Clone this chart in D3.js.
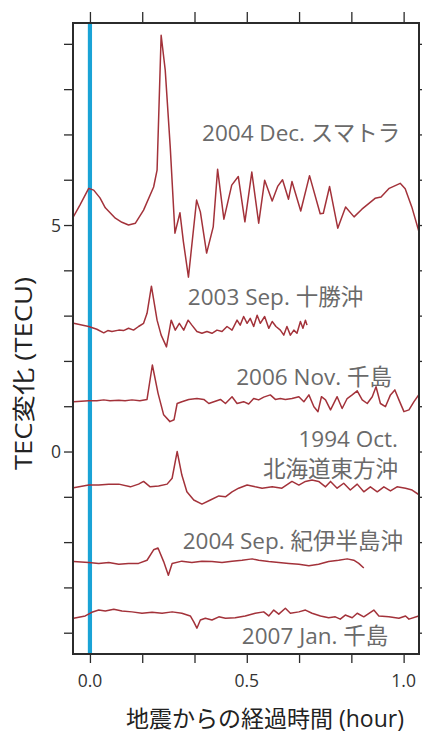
<!DOCTYPE html>
<html><head><meta charset="utf-8">
<script src="https://cdn.jsdelivr.net/npm/d3@7"></script>
<style>
html,body{margin:0;padding:0;background:#fff;}
svg{display:block;}
text{font-family:"Open Sans","Noto Sans CJK JP",sans-serif;}
</style></head>
<body><svg id="c" width="422" height="733"></svg>
<script>
// ---- data (hour after earthquake, TEC change in TECU incl. offset) ----
const sumatra = [[-0.053,5.18],[-0.032,5.44],[-0.004,5.81],[0.012,5.77],[0.032,5.60],[0.049,5.38],[0.081,5.15],[0.102,5.06],[0.123,5.00],[0.145,5.04],[0.171,5.33],[0.203,5.84],[0.214,6.21],[0.227,9.19],[0.240,8.42],[0.256,6.72],[0.271,4.82],[0.287,5.27],[0.298,4.63],[0.314,3.85],[0.340,5.55],[0.352,5.29],[0.372,4.38],[0.393,4.96],[0.407,6.23],[0.427,5.13],[0.452,5.88],[0.473,6.07],[0.494,5.07],[0.516,6.17],[0.538,5.04],[0.557,5.99],[0.581,5.53],[0.599,5.86],[0.614,6.00],[0.633,5.57],[0.644,5.96],[0.672,5.31],[0.700,6.09],[0.734,5.25],[0.744,5.26],[0.764,5.85],[0.790,4.93],[0.815,5.40],[0.842,5.18],[0.867,5.35],[0.909,5.59],[0.928,5.62],[0.954,5.81],[0.989,5.92],[1.005,5.80],[1.026,5.40],[1.048,4.87]];
const tokachi = [[-0.052,2.83],[-0.004,2.76],[0.022,2.70],[0.044,2.62],[0.057,2.67],[0.070,2.65],[0.092,2.68],[0.107,2.67],[0.123,2.72],[0.139,2.68],[0.155,2.76],[0.171,2.83],[0.182,3.05],[0.196,3.65],[0.214,2.90],[0.227,2.57],[0.244,2.31],[0.259,2.90],[0.272,2.68],[0.285,2.83],[0.299,2.68],[0.313,2.90],[0.325,2.79],[0.341,2.65],[0.357,2.61],[0.373,2.65],[0.389,2.61],[0.405,2.68],[0.421,2.65],[0.437,2.76],[0.453,2.68],[0.469,2.90],[0.479,2.79],[0.490,2.98],[0.501,2.83],[0.511,2.94],[0.522,2.76],[0.533,3.01],[0.543,2.83],[0.557,2.98],[0.570,2.72],[0.581,2.87],[0.593,2.76],[0.607,2.68],[0.618,2.57],[0.628,2.76],[0.639,2.57],[0.650,2.68],[0.660,2.61],[0.671,2.87],[0.679,2.72],[0.687,2.90],[0.692,2.79]];
const chishima2006 = [[-0.052,1.10],[-0.004,1.12],[0.022,1.12],[0.044,1.14],[0.064,1.12],[0.092,1.13],[0.112,1.12],[0.134,1.14],[0.159,1.12],[0.182,1.15],[0.199,1.91],[0.217,1.29],[0.235,0.81],[0.255,0.66],[0.268,0.70],[0.278,1.06],[0.293,1.10],[0.315,1.15],[0.341,1.17],[0.363,1.15],[0.379,1.06],[0.395,1.10],[0.416,1.15],[0.432,1.06],[0.453,1.21],[0.469,1.06],[0.490,1.10],[0.506,1.05],[0.522,1.17],[0.538,1.14],[0.554,1.20],[0.575,1.25],[0.591,1.15],[0.607,1.17],[0.623,1.15],[0.644,1.17],[0.666,1.21],[0.682,1.10],[0.698,1.25],[0.714,0.99],[0.727,0.88],[0.738,1.21],[0.751,1.14],[0.767,0.92],[0.788,1.21],[0.804,0.95],[0.820,1.17],[0.836,1.25],[0.852,1.34],[0.868,1.14],[0.884,1.06],[0.900,1.21],[0.912,1.43],[0.926,1.06],[0.942,0.99],[0.958,1.25],[0.972,1.36],[0.985,1.14],[1.001,0.88],[1.017,0.92],[1.033,1.10],[1.048,1.25]];
const hokkaido1994 = [[-0.052,-0.80],[-0.004,-0.74],[0.028,-0.74],[0.060,-0.72],[0.092,-0.72],[0.129,-0.78],[0.155,-0.72],[0.171,-0.66],[0.192,-0.78],[0.219,-0.76],[0.246,-0.72],[0.262,-0.59],[0.278,0.00],[0.293,-0.52],[0.309,-0.89],[0.331,-1.07],[0.357,-1.16],[0.384,-1.07],[0.411,-0.98],[0.432,-1.00],[0.453,-0.89],[0.474,-0.81],[0.501,-0.74],[0.527,-0.78],[0.549,-0.81],[0.581,-0.78],[0.612,-0.81],[0.644,-0.66],[0.666,-0.74],[0.687,-0.66],[0.708,-0.63],[0.729,-0.66],[0.751,-0.78],[0.767,-0.66],[0.788,-0.81],[0.809,-0.70],[0.830,-0.85],[0.852,-0.72],[0.873,-0.89],[0.894,-0.78],[0.916,-0.89],[0.937,-0.78],[0.958,-0.87],[0.979,-0.78],[1.006,-0.81],[1.027,-0.85],[1.048,-0.95]];
const kii2004 = [[-0.052,-2.43],[-0.004,-2.45],[0.028,-2.47],[0.060,-2.45],[0.092,-2.49],[0.123,-2.47],[0.155,-2.47],[0.182,-2.40],[0.203,-2.17],[0.217,-2.13],[0.235,-2.43],[0.250,-2.73],[0.262,-2.47],[0.293,-2.42],[0.325,-2.45],[0.357,-2.42],[0.389,-2.43],[0.421,-2.45],[0.453,-2.42],[0.485,-2.40],[0.517,-2.37],[0.538,-2.40],[0.570,-2.43],[0.602,-2.45],[0.634,-2.47],[0.666,-2.49],[0.698,-2.52],[0.729,-2.49],[0.761,-2.43],[0.793,-2.40],[0.820,-2.37],[0.841,-2.40],[0.857,-2.47],[0.873,-2.57]];
const chishima2007 = [[-0.052,-3.68],[-0.015,-3.63],[0.006,-3.55],[0.028,-3.50],[0.049,-3.52],[0.076,-3.48],[0.102,-3.52],[0.134,-3.54],[0.166,-3.57],[0.198,-3.55],[0.230,-3.57],[0.262,-3.54],[0.293,-3.57],[0.320,-3.63],[0.331,-3.76],[0.341,-3.90],[0.352,-3.72],[0.368,-3.68],[0.389,-3.72],[0.411,-3.65],[0.432,-3.68],[0.463,-3.67],[0.495,-3.63],[0.527,-3.57],[0.554,-3.54],[0.570,-3.63],[0.586,-3.50],[0.602,-3.59],[0.623,-3.46],[0.639,-3.57],[0.666,-3.54],[0.687,-3.50],[0.708,-3.57],[0.735,-3.63],[0.761,-3.67],[0.782,-3.65],[0.798,-3.70],[0.814,-3.61],[0.836,-3.67],[0.852,-3.57],[0.873,-3.65],[0.905,-3.50],[0.921,-3.63],[0.953,-3.65],[0.985,-3.68],[1.006,-3.63],[1.017,-3.70],[1.048,-3.63]];

const seriesNames = ["2004 Dec. スマトラ","2003 Sep. 十勝沖","2006 Nov. 千島","1994 Oct.|北海道東方沖","2004 Sep. 紀伊半島沖","2007 Jan. 千島"];
const xTicks = [0, 1/6, 2/6, 3/6, 4/6, 5/6, 1];
const xTickLabels = ["0.0","0.5","1.0"];
const xLabelValues = [0, 0.5, 1.0];
const yTicks = [-4,-3,-2,-1,0,1,2,3,4,5,6,7,8,9];
const yTickLabels = ["0","5"];
const yLabelValues = [0, 5];
const xTitle = "地震からの経過時間 (hour)";
const yTitle = "TEC変化 (TECU)";

// ---- layout ----
const series = [sumatra, tokachi, chishima2006, hokkaido1994, kii2004, chishima2007];
// label anchor (right end, baseline) in data units
const labelPos = [[0.989,6.86],[0.871,3.23],[0.963,1.47],[0.982,0.10],[0.982,-0.56],[0.998,-2.15],[0.951,-4.24]];

const L=73, R=419, T=23, B=654;
const svg = d3.select("#c");
const x = d3.scaleLinear().domain([-0.054, 1.049]).range([L, R]);
const y = d3.scaleLinear().domain([-4.47, 9.46]).range([B, T]);

const axisColor = "#2b2b2b";
const lineColor = "#a3323a";
const textColor = "#6a6a6a";

// axes ticks
const mkAxis = (ax, tr) => {
  const g = svg.append("g").attr("transform", tr).call(ax);
  g.select(".domain").remove();
  g.selectAll(".tick line").attr("stroke", axisColor).attr("stroke-width", 1.3);
  g.selectAll(".tick text").remove();
  return g;
};
mkAxis(d3.axisBottom(x).tickValues(xTicks).tickSize(9), `translate(0,${B})`);
mkAxis(d3.axisTop(x).tickValues(xTicks).tickSize(11), `translate(0,${T})`);
mkAxis(d3.axisLeft(y).tickValues(yTicks).tickSize(9), `translate(${L},0)`);
mkAxis(d3.axisRight(y).tickValues(yTicks).tickSize(6), `translate(${R},0)`);

// tick labels
svg.append("g").selectAll("text").data(xLabelValues).join("text")
  .attr("x", d => x(d)).attr("y", 687).attr("text-anchor","middle")
  .attr("font-size", 17.5).attr("fill", "#333").text((d,i) => xTickLabels[i]);
svg.append("g").selectAll("text").data(yLabelValues).join("text")
  .attr("x", 61).attr("y", d => y(d) + 6.5).attr("text-anchor","end")
  .attr("font-size", 17.5).attr("fill", "#333").text((d,i) => yTickLabels[i]);

// blue line at earthquake time
svg.append("line").attr("x1", x(0)).attr("x2", x(0)).attr("y1", T).attr("y2", B)
  .attr("stroke", "#1aa3d6").attr("stroke-width", 4.2);

// curves
const clip = svg.append("clipPath").attr("id","pc").append("rect")
  .attr("x", L).attr("y", T).attr("width", R-L).attr("height", B-T);
const line = d3.line().x(d => x(d[0])).y(d => y(d[1]));
svg.append("g").attr("clip-path","url(#pc)").selectAll("path").data(series).join("path")
  .attr("d", line).attr("fill","none").attr("stroke", lineColor)
  .attr("stroke-width", 1.5).attr("stroke-linejoin","round");

// series labels
const labelTexts = seriesNames.flatMap(s => s.split("|"));
svg.append("g").selectAll("text").data(labelTexts).join("text")
  .attr("x", (d,i) => x(labelPos[i][0])).attr("y", (d,i) => y(labelPos[i][1]))
  .attr("text-anchor","end").attr("font-size", 22.5).attr("fill", textColor).text(d => d);

// frame
svg.append("rect").attr("x", L).attr("y", T).attr("width", R-L).attr("height", B-T)
  .attr("fill","none").attr("stroke", axisColor).attr("stroke-width", 2);

// titles
svg.append("text").attr("x", 126).attr("y", 727).attr("font-size", 23)
  .attr("fill","#222").text(xTitle);
svg.append("text").attr("transform","translate(32,470) rotate(-90)").attr("font-size", 23)
  .attr("fill","#222").attr("textLength", 193).attr("lengthAdjust","spacingAndGlyphs").text(yTitle);
</script></body></html>
